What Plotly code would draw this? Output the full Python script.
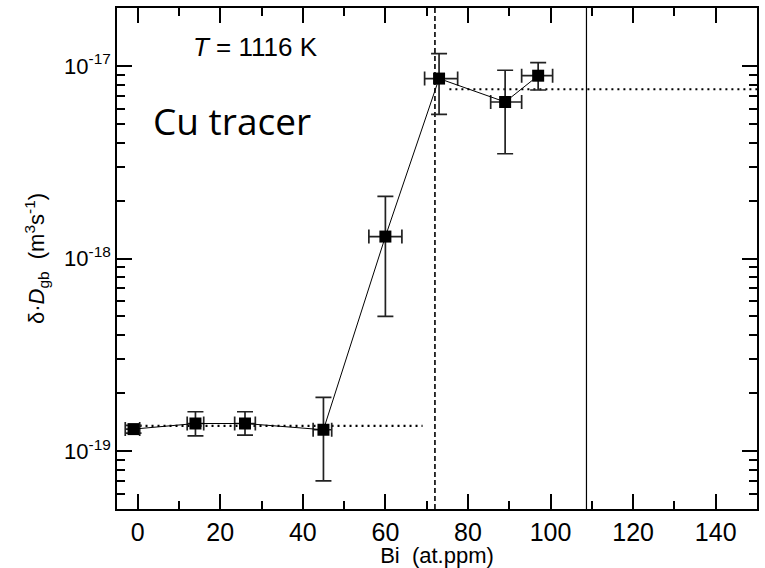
import plotly.graph_objects as go
import numpy as np

# ---- data ----
bi_ppm = [-1, 14, 26, 45, 60, 73, 89, 97]
dgb = [1.30e-19, 1.39e-19, 1.39e-19, 1.29e-19, 1.30e-18, 8.6e-18, 6.5e-18, 8.9e-18]
dgb_hi = [1.36e-19, 1.60e-19, 1.60e-19, 1.90e-19, 2.1e-18, 1.16e-17, 9.5e-18, 1.04e-17]
dgb_lo = [1.24e-19, 1.20e-19, 1.21e-19, 7.0e-20, 5.0e-19, 5.6e-18, 3.5e-18, 7.5e-18]
bi_lo = [-3, 12, 23.5, 42.5, 56, 69.5, 85.5, 93]
bi_hi = [0.5, 16, 28.5, 47, 64, 77.5, 93, 100.5]

low_level = 1.35e-19
low_level_x = [-1, 69]
high_level = 7.57e-18
high_level_x = [75.5, 150]

dashed_x = 72
solid_x = 108.7

x_range = [-5, 150]
y_range = [5e-20, 2e-17]
x_major = [0, 20, 40, 60, 80, 100, 120, 140]
x_minor = [10, 30, 50, 70, 90, 110, 130]
y_major = [1e-19, 1e-18, 1e-17]
y_major_text = ["10<sup>-19</sup>", "10<sup>-18</sup>", "10<sup>-17</sup>"]
y_minor = [m * 10.0 ** e for e in (-20, -19, -18, -17) for m in range(2, 10)
           if y_range[0] <= m * 10.0 ** e <= y_range[1]]

fig = go.Figure()

# level lines
fig.add_trace(go.Scatter(x=low_level_x, y=[low_level, low_level], mode="lines",
                         line=dict(color="black", width=2.2, dash="2px,4px"), hoverinfo="skip"))
fig.add_trace(go.Scatter(x=high_level_x, y=[high_level, high_level], mode="lines",
                         line=dict(color="black", width=2.2, dash="2px,4px"), hoverinfo="skip"))
# vertical lines
fig.add_trace(go.Scatter(x=[dashed_x, dashed_x], y=y_range, mode="lines",
                         line=dict(color="black", width=1.6, dash="5px,3px"), hoverinfo="skip"))
fig.add_trace(go.Scatter(x=[solid_x, solid_x], y=y_range, mode="lines",
                         line=dict(color="black", width=1.2), hoverinfo="skip"))

err_plus = [h - v for h, v in zip(dgb_hi, dgb)]
err_minus = [v - l for v, l in zip(dgb, dgb_lo)]
xerr_plus = [h - v for h, v in zip(bi_hi, bi_ppm)]
xerr_minus = [v - l for v, l in zip(bi_ppm, bi_lo)]

fig.add_trace(go.Scatter(
    x=bi_ppm, y=dgb, mode="lines+markers",
    line=dict(color="black", width=1),
    marker=dict(symbol="square", size=12, color="black"),
    error_y=dict(type="data", symmetric=False, array=err_plus, arrayminus=err_minus,
                 color="#222222", thickness=1.7, width=8),
    error_x=dict(type="data", symmetric=False, array=xerr_plus, arrayminus=xerr_minus,
                 color="#222222", thickness=1.7, width=7),
))

fig.update_layout(
    width=765, height=568,
    margin=dict(l=117, r=7, t=6, b=59),
    paper_bgcolor="white", plot_bgcolor="white",
    showlegend=False,
    font=dict(family="Liberation Sans, Arial, sans-serif", color="black"),
    xaxis=dict(
        range=x_range, tickvals=x_major, ticks="inside", ticklen=15, tickwidth=1.5,
        tickcolor="black", mirror="allticks", showline=True, linecolor="black", linewidth=1.5,
        showgrid=False, zeroline=False, tickfont=dict(size=25),
        minor=dict(tickvals=x_minor, ticks="inside", ticklen=8, tickwidth=1.5, tickcolor="black", showgrid=False),
        title=dict(text="Bi  (at.ppm)", font=dict(size=22), standoff=0),
    ),
    yaxis=dict(
        type="log", range=[np.log10(y_range[0]), np.log10(y_range[1])],
        tickvals=y_major, ticktext=y_major_text, ticks="inside", ticklen=15, tickwidth=1.5,
        tickcolor="black", mirror="allticks", showline=True, linecolor="black", linewidth=1.5,
        showgrid=False, zeroline=False, tickfont=dict(size=22),
        minor=dict(tickvals=y_minor, ticks="inside", ticklen=8, tickwidth=1.5, tickcolor="black", showgrid=False),
        title=dict(text="δ·<i>D</i><sub>gb</sub>  (m<sup>3</sup>s<sup>-1</sup>)", font=dict(size=22), standoff=13),
    ),
    annotations=[
        dict(text="<i>T</i> = 1116 K", xref="paper", yref="paper", x=0.216, y=0.922,
             xanchor="center", yanchor="middle", showarrow=False,
             font=dict(size=26, family="Liberation Sans, Arial, sans-serif")),
        dict(text="Cu tracer", xref="paper", yref="paper", x=0.053, y=0.775,
             xanchor="left", yanchor="middle", showarrow=False,
             font=dict(size=37, family="Open Sans, sans-serif")),
    ],
)

fig.write_html("out.html")
